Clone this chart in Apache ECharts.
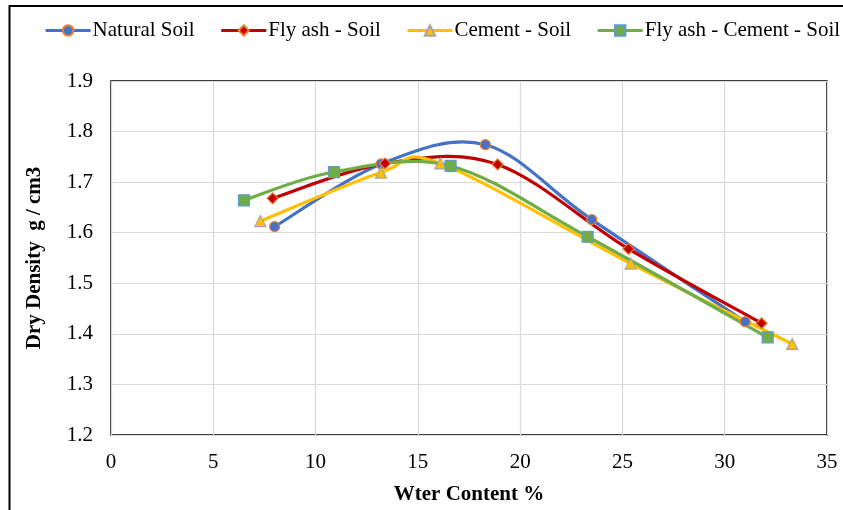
<!DOCTYPE html>
<html><head><meta charset="utf-8">
<script src="https://cdn.jsdelivr.net/npm/echarts@6/dist/echarts.min.js"></script>
<style>html,body{margin:0;padding:0;background:#fff}#c{width:843px;height:510px}</style>
</head><body><div id="c"></div>
<script>
const seriesNames = ['Natural Soil', 'Fly ash - Soil', 'Cement - Soil', 'Fly ash - Cement - Soil'];
const naturalSoil = [[8.0, 1.612], [13.2, 1.736], [18.3, 1.774], [23.5, 1.626], [31.0, 1.424]];
const flyAshSoil = [[7.9, 1.668], [13.4, 1.737], [18.9, 1.735], [25.3, 1.568], [31.8, 1.421]];
const cementSoil = [[7.3, 1.623], [13.2, 1.719], [16.1, 1.737], [25.4, 1.539], [33.3, 1.380]];
const flyAshCementSoil = [[6.5, 1.664], [10.9, 1.720], [16.6, 1.732], [23.3, 1.592], [32.1, 1.393]];
const xTicks = [0, 5, 10, 15, 20, 25, 30, 35];
const yTicks = [1.2, 1.3, 1.4, 1.5, 1.6, 1.7, 1.8, 1.9];

const font = '"Liberation Serif", "Times New Roman", serif';
const chart = echarts.init(document.getElementById('c'), null, {renderer: 'canvas'});

function markers(name, data, color, symbol, symSize, border) {
  return {
    name, type: 'line', data, z: 4,
    symbol, symbolSize: symSize, showSymbol: true,
    lineStyle: {color, width: 3, opacity: 0},
    itemStyle: {color, borderColor: border, borderWidth: 1.2},
    emphasis: {disabled: true}, silent: true
  };
}
// Excel-style smoothed curve (cardinal Bezier through the data points), drawn via the axes' coord()
function curve(name, data, color) {
  return {
    name: name + ' curve', type: 'custom', data, z: 3, silent: true,
    renderItem: function (params, api) {
      const i = params.dataIndex, n = data.length;
      if (i >= n - 1) return null;
      const p = k => api.coord(data[Math.max(0, Math.min(n - 1, k))]);
      const p0 = p(i - 1), p1 = p(i), p2 = p(i + 1), p3 = p(i + 2);
      return {
        type: 'bezierCurve',
        shape: {
          x1: p1[0], y1: p1[1], x2: p2[0], y2: p2[1],
          cpx1: p1[0] + (p2[0] - p0[0]) / 6, cpy1: p1[1] + (p2[1] - p0[1]) / 6,
          cpx2: p2[0] - (p3[0] - p1[0]) / 6, cpy2: p2[1] - (p3[1] - p1[1]) / 6
        },
        style: {stroke: color, lineWidth: 3.2, fill: null, lineCap: 'round'}
      };
    }
  };
}
const colors = ['#4472C4', '#C00000', '#FFC000', '#70AD47'];
chart.setOption({
  animation: false,
  legend: {
    top: 20, left: 44, width: 830, padding: 0, itemGap: 25, itemWidth: 45, itemHeight: 13,
    lineStyle: {width: 3.2, opacity: 1},
    textStyle: {fontFamily: font, fontSize: 21, color: '#000', padding: [0, 0, 0, -3]},
    data: seriesNames
  },
  grid: {left: 111, right: 16, top: 81, bottom: 73, show: true, borderColor: '#000', borderWidth: 1.5},
  xAxis: {
    type: 'value', min: xTicks[0], max: xTicks[xTicks.length - 1], interval: 5,
    name: 'Wter Content %', nameLocation: 'middle', nameGap: 49,
    nameTextStyle: {fontFamily: font, fontSize: 21, fontWeight: 'bold', color: '#000'},
    axisLine: {show: false}, axisTick: {show: false},
    axisLabel: {fontFamily: font, fontSize: 21, color: '#000', margin: 17},
    splitLine: {lineStyle: {color: '#d9d9d9', width: 1.2}}
  },
  yAxis: {
    type: 'value', min: yTicks[0], max: yTicks[yTicks.length - 1], interval: 0.1,
    name: 'Dry Density  g / cm3', nameLocation: 'middle', nameGap: 66,
    nameTextStyle: {fontFamily: font, fontSize: 21, fontWeight: 'bold', color: '#000'},
    axisLine: {show: false}, axisTick: {show: false},
    axisLabel: {fontFamily: font, fontSize: 21, color: '#000', margin: 18, formatter: v => v.toFixed(1)},
    splitLine: {lineStyle: {color: '#d9d9d9', width: 1.2}}
  },
  graphic: [
    {type: 'polyline', silent: true, shape: {points: [[9.5, 520], [9.5, 6], [850, 6]]}, style: {stroke: '#000', lineWidth: 2, fill: null}}
  ],
  series: [
    curve(seriesNames[0], naturalSoil, colors[0]),
    curve(seriesNames[1], flyAshSoil, colors[1]),
    curve(seriesNames[2], cementSoil, colors[2]),
    curve(seriesNames[3], flyAshCementSoil, colors[3]),
    markers(seriesNames[0], naturalSoil, colors[0], 'circle', 10, '#ED7D31'),
    markers(seriesNames[1], flyAshSoil, colors[1], 'diamond', 11, '#ED7D31'),
    markers(seriesNames[2], cementSoil, colors[2], 'triangle', 11, '#A5A5A5'),
    markers(seriesNames[3], flyAshCementSoil, colors[3], 'rect', 11, '#5B9BD5')
  ]
});
</script></body></html>
